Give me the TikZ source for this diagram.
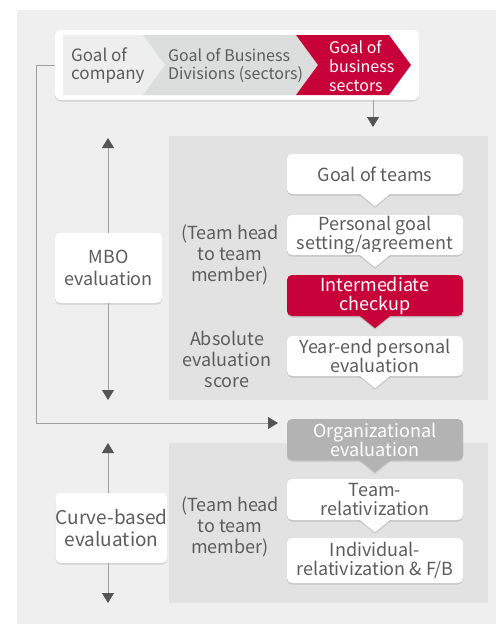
\documentclass[tikz,border=0pt]{standalone}
\usepackage{fontspec}
\setmainfont{Noto Sans CJK KR}
\usetikzlibrary{arrows.meta,shadows}
\definecolor{bgout}{HTML}{EFEFEF}
\definecolor{panelc}{HTML}{E2E2E2}
\definecolor{chA}{HTML}{EEEEEE}
\definecolor{chB}{HTML}{DCDDDD}
\definecolor{redc}{HTML}{C8003A}
\definecolor{orgc}{HTML}{B3B3B3}
\definecolor{txt}{HTML}{5C5C5C}
\definecolor{arr}{HTML}{555555}
\definecolor{lin}{HTML}{A0A0A0}
\tikzset{
  shad/.style={drop shadow={shadow xshift=0pt,shadow yshift=-1.5pt,opacity=0.13,fill=black}},
  panelbox/.style={fill=panelc,inner sep=0pt},
  stepbox/.style={fill=white,rounded corners=5pt,minimum width=176pt,inner sep=0pt,align=center,shad,font=\fontsize{18}{19}\selectfont},
  redbox/.style={stepbox,fill=redc,text=white},
  orgbox/.style={stepbox,fill=orgc,text=white},
  sidebox/.style={fill=white,rounded corners=5pt,inner sep=0pt,align=center,shad,font=\fontsize{18}{22}\selectfont},
  sidelabel/.style={align=center,inner sep=0pt,font=\fontsize{18}{21}\selectfont},
  tip/.style={-{Triangle[width=12pt,length=10pt,color=arr,fill=arr]}},
  conn/.style={draw=lin,line width=0.8pt},
}
\newcommand\ptr[2]{%
  \fill[#2,shad] ([xshift=-16pt,yshift=1pt]#1.south) -- ([xshift=16pt,yshift=1pt]#1.south) -- ([yshift=-12pt]#1.south) -- cycle;
  \fill[#2] ([xshift=-15pt,yshift=3pt]#1.south) rectangle ([xshift=15pt]#1.south);
}
\begin{document}
\begin{tikzpicture}[x=1pt,y=-1pt,font=\fontsize{16}{18}\selectfont,text=txt]
\useasboundingbox (0,0) rectangle (496,624);
\fill[bgout] (17,10) rectangle (496,624);
% panels
\node[panelbox,minimum width=319pt,minimum height=264pt] (p1) at (328.5,268) {};
\node[panelbox,minimum width=319pt,minimum height=160pt] (p2) at (328.5,523) {};
% top box
\node[fill=white,rounded corners=6pt,minimum width=364pt,minimum height=70pt,inner sep=0pt,shad] (top) at (237,65) {};
\fill[chA] (63,35) -- (143,35) -- (165,65) -- (143,95) -- (63,95) -- cycle;
\fill[chB] (143,35) -- (296,35) -- (318,65) -- (296,95) -- (143,95) -- (165,65) -- cycle;
\fill[redc] (296,35) -- (389,35) -- (411,65) -- (389,95) -- (296,95) -- (318,65) -- cycle;
\node[anchor=west,align=left,inner sep=0pt,font=\fontsize{17}{18}\selectfont] (c1) at (71,66) {Goal of\\company};
\node[anchor=west,align=left,inner sep=0pt] (c2) at (168,66) {Goal of Business\\Divisions (sectors)};
\node[anchor=west,align=left,inner sep=0pt,text=white,font=\fontsize{16}{19}\selectfont] (c3) at (329,66) {Goal of\\business\\sectors};
\coordinate (a1) at (373,127);
\draw[conn,tip] (top.south -| a1) -- (a1);
% steps MBO
\node[stepbox,minimum height=40pt] (g1) at (375,174) {Goal of teams};
\node[stepbox,minimum height=40pt] (g2) at (375,235) {Personal goal\\setting/agreement};
\node[redbox,minimum height=41pt] (g3) at (375,295.5) {Intermediate\\checkup};
\node[stepbox,minimum height=40pt] (g4) at (375,356) {Year-end personal\\evaluation};
\ptr{g1}{white}
\ptr{g2}{white}
\ptr{g3}{redc}
\ptr{g4}{white}
% steps curve
\node[orgbox,minimum height=41pt] (o1) at (375,439.5) {Organizational\\evaluation};
\node[stepbox,minimum height=41pt] (o2) at (375,499.5) {Team-\\relativization};
\node[stepbox,minimum height=45pt] (o3) at (375,560.5) {Individual-\\relativization \& F/B};
\ptr{o1}{orgc}
\ptr{o2}{white}
% side labels
\node[sidelabel] (l1) at (230,255) {(Team head\\to team\\member)};
\node[sidelabel] (l2) at (227,359) {Absolute\\evaluation\\score};
\node[sidelabel] (l3) at (230,527) {(Team head\\to team\\member)};
% side boxes
\node[sidebox,minimum width=107pt,minimum height=70pt] (mbo) at (108.5,268) {MBO\\evaluation};
\node[sidebox,minimum width=109pt,minimum height=70pt,font=\fontsize{19}{22}\selectfont] (cbe) at (111.5,528) {Curve-based\\evaluation};
\coordinate (m1) at (108,138);
\coordinate (m2) at (108,400);
\coordinate (m3) at (108,443);
\coordinate (m4) at (108,603);
\draw[conn,tip] (mbo.north -| m1) -- (m1);
\draw[conn,tip] (mbo.south -| m2) -- (m2);
\draw[conn,tip] (cbe.north -| m3) -- (m3);
\draw[conn,tip] (cbe.south -| m4) -- (m4);
% feedback
\coordinate (fb) at (278,423);
\draw[conn,tip] (top.west) -- ++(-18,0) |- (fb);
\end{tikzpicture}
\end{document}
